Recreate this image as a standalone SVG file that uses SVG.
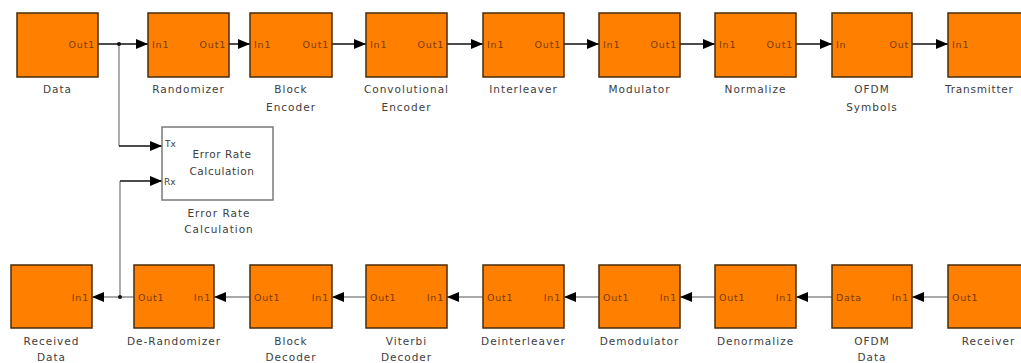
<svg xmlns="http://www.w3.org/2000/svg" width="1021" height="363" viewBox="0 0 1021 363">
<style>
.blk{fill:#ff8000;stroke:#4a2c08;stroke-width:1.5}
.erc{fill:#ffffff;stroke:#7a7a7a;stroke-width:1.5}
.lbl{font-family:"DejaVu Sans",sans-serif;font-size:10.5px;letter-spacing:1px;fill:#404040;text-anchor:middle}
.prt{font-family:"DejaVu Sans",sans-serif;font-size:9.5px;letter-spacing:0.8px;fill:#7a3a00}
.pr{text-anchor:end}
.ein{font-family:"DejaVu Sans",sans-serif;font-size:10.5px;letter-spacing:0.6px;fill:#404040;text-anchor:middle}
.eprt{font-family:"DejaVu Sans",sans-serif;font-size:9px;fill:#404040}
.top{fill:none;stroke:#111;stroke-width:1.5}
.bot{fill:none;stroke:#8c8c8c;stroke-width:1.5}
.vert{fill:none;stroke:#777;stroke-width:1.2}
.tx{fill:none;stroke:#111;stroke-width:1.3}
</style>
<defs>
<marker id="ah" viewBox="0 0 12 10" refX="12" refY="5" markerWidth="12" markerHeight="10" markerUnits="userSpaceOnUse" orient="auto">
<path d="M0,0 L12,5 L0,10 z" fill="#000"/>
</marker>
</defs>
<rect width="1021" height="363" fill="#ffffff"/>

<g id="connectors">
<path class="top" d="M98,44 H148" marker-end="url(#ah)"/>
<path class="top" d="M229,44 H250" marker-end="url(#ah)"/>
<path class="top" d="M332,44 H366" marker-end="url(#ah)"/>
<path class="top" d="M447,44 H483" marker-end="url(#ah)"/>
<path class="top" d="M564,44 H599" marker-end="url(#ah)"/>
<path class="top" d="M680,44 H715" marker-end="url(#ah)"/>
<path class="top" d="M796,44 H832" marker-end="url(#ah)"/>
<path class="top" d="M912,44 H948" marker-end="url(#ah)"/>
<path class="vert" d="M119,44 V146"/>
<path class="tx" d="M119,146 H162" marker-end="url(#ah)"/>
<circle cx="119" cy="44" r="2" fill="#111"/>
<path class="bot" d="M948,297 H912" marker-end="url(#ah)"/>
<path class="bot" d="M832,297 H796" marker-end="url(#ah)"/>
<path class="bot" d="M715,297 H680" marker-end="url(#ah)"/>
<path class="bot" d="M599,297 H564" marker-end="url(#ah)"/>
<path class="bot" d="M483,297 H447" marker-end="url(#ah)"/>
<path class="bot" d="M366,297 H332" marker-end="url(#ah)"/>
<path class="bot" d="M250,297 H214" marker-end="url(#ah)"/>
<path class="bot" d="M134,297 H92" marker-end="url(#ah)"/>
<path class="vert" d="M120,297 V181"/>
<path class="tx" d="M120,181 H162" marker-end="url(#ah)"/>
<circle cx="120" cy="297" r="2" fill="#111"/>
</g>

<g id="data">
<rect class="blk" x="17" y="13" width="81" height="64"/>
<text class="prt pr" x="95" y="48">Out1</text>
<text class="lbl" x="57.5" y="93">Data</text>
</g>
<g id="randomizer">
<rect class="blk" x="148" y="13" width="81" height="64"/>
<text class="prt" x="152" y="48">In1</text>
<text class="prt pr" x="226" y="48">Out1</text>
<text class="lbl" x="188.5" y="93">Randomizer</text>
</g>
<g id="block-encoder">
<rect class="blk" x="250" y="13" width="82" height="64"/>
<text class="prt" x="254" y="48">In1</text>
<text class="prt pr" x="329" y="48">Out1</text>
<text class="lbl" x="291" y="93">Block</text>
<text class="lbl" x="291" y="111">Encoder</text>
</g>
<g id="convolutional-encoder">
<rect class="blk" x="366" y="13" width="81" height="64"/>
<text class="prt" x="370" y="48">In1</text>
<text class="prt pr" x="444" y="48">Out1</text>
<text class="lbl" x="406.5" y="93">Convolutional</text>
<text class="lbl" x="406.5" y="111">Encoder</text>
</g>
<g id="interleaver">
<rect class="blk" x="483" y="13" width="81" height="64"/>
<text class="prt" x="487" y="48">In1</text>
<text class="prt pr" x="561" y="48">Out1</text>
<text class="lbl" x="523.5" y="93">Interleaver</text>
</g>
<g id="modulator">
<rect class="blk" x="599" y="13" width="81" height="64"/>
<text class="prt" x="603" y="48">In1</text>
<text class="prt pr" x="677" y="48">Out1</text>
<text class="lbl" x="639.5" y="93">Modulator</text>
</g>
<g id="normalize">
<rect class="blk" x="715" y="13" width="81" height="64"/>
<text class="prt" x="719" y="48">In1</text>
<text class="prt pr" x="793" y="48">Out1</text>
<text class="lbl" x="755.5" y="93">Normalize</text>
</g>
<g id="ofdm-symbols">
<rect class="blk" x="832" y="13" width="80" height="64"/>
<text class="prt" x="836" y="48">In</text>
<text class="prt pr" x="909" y="48">Out</text>
<text class="lbl" x="872" y="93">OFDM</text>
<text class="lbl" x="872" y="111">Symbols</text>
</g>
<g id="transmitter">
<rect class="blk" x="948" y="13" width="81" height="64"/>
<text class="prt" x="952" y="48">In1</text>
<text class="lbl" x="945" y="93" style="text-anchor:start;letter-spacing:0.8px">Transmitter</text>
</g>

<g id="error-rate">
<rect class="erc" x="162" y="127" width="111" height="73"/>
<text class="eprt" x="165" y="147">Tx</text>
<text class="eprt" x="164" y="185">Rx</text>
<text class="ein" x="222" y="158">Error Rate</text>
<text class="ein" x="222" y="175">Calculation</text>
<text class="lbl" x="219" y="217">Error Rate</text>
<text class="lbl" x="219" y="233">Calculation</text>
</g>

<g id="received-data">
<rect class="blk" x="11" y="265" width="81" height="63"/>
<text class="prt pr" x="89" y="301">In1</text>
<text class="lbl" x="51.5" y="345">Received</text>
<text class="lbl" x="51.5" y="361">Data</text>
</g>
<g id="de-randomizer">
<rect class="blk" x="134" y="265" width="80" height="63"/>
<text class="prt" x="138" y="301">Out1</text>
<text class="prt pr" x="211" y="301">In1</text>
<text class="lbl" x="174" y="345">De-Randomizer</text>
</g>
<g id="block-decoder">
<rect class="blk" x="250" y="265" width="82" height="63"/>
<text class="prt" x="254" y="301">Out1</text>
<text class="prt pr" x="329" y="301">In1</text>
<text class="lbl" x="291" y="345">Block</text>
<text class="lbl" x="291" y="361">Decoder</text>
</g>
<g id="viterbi-decoder">
<rect class="blk" x="366" y="265" width="81" height="63"/>
<text class="prt" x="370" y="301">Out1</text>
<text class="prt pr" x="444" y="301">In1</text>
<text class="lbl" x="406.5" y="345">Viterbi</text>
<text class="lbl" x="406.5" y="361">Decoder</text>
</g>
<g id="deinterleaver">
<rect class="blk" x="483" y="265" width="81" height="63"/>
<text class="prt" x="487" y="301">Out1</text>
<text class="prt pr" x="561" y="301">In1</text>
<text class="lbl" x="523.5" y="345">Deinterleaver</text>
</g>
<g id="demodulator">
<rect class="blk" x="599" y="265" width="81" height="63"/>
<text class="prt" x="603" y="301">Out1</text>
<text class="prt pr" x="677" y="301">In1</text>
<text class="lbl" x="639.5" y="345">Demodulator</text>
</g>
<g id="denormalize">
<rect class="blk" x="715" y="265" width="81" height="63"/>
<text class="prt" x="719" y="301">Out1</text>
<text class="prt pr" x="793" y="301">In1</text>
<text class="lbl" x="755.5" y="345">Denormalize</text>
</g>
<g id="ofdm-data">
<rect class="blk" x="832" y="265" width="80" height="63"/>
<text class="prt" x="836" y="301">Data</text>
<text class="prt pr" x="909" y="301">In1</text>
<text class="lbl" x="872" y="345">OFDM</text>
<text class="lbl" x="872" y="361">Data</text>
</g>
<g id="receiver">
<rect class="blk" x="948" y="265" width="81" height="63"/>
<text class="prt" x="952" y="301">Out1</text>
<text class="lbl" x="988.5" y="345">Receiver</text>
</g>
</svg>
